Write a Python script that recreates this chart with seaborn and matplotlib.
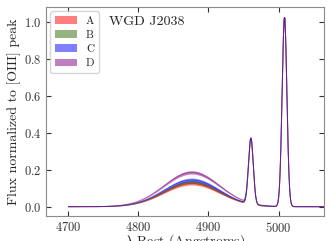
import numpy as np
import pandas as pd
import seaborn as sns
import matplotlib
matplotlib.use('Agg')
import matplotlib.pyplot as plt

# values
samples = ['A', 'B', 'C', 'D']
colors = ['red', '#2d6900', 'blue', 'purple']
# broad component of each sample: amplitude band (low, high)
broad_amp_lo = [0.118, 0.125, 0.135, 0.177]
broad_amp_hi = [0.135, 0.142, 0.155, 0.195]
broad_center = 4876.0
broad_sigma = 40.0
# narrow [OIII] doublet, common to all samples
narrow_centers = [4960.5, 5008.5]
narrow_amps = [0.355, 1.025]
narrow_sigma = 3.4
xticks = [4700, 4800, 4900, 5000]
yticks = [0.0, 0.2, 0.4, 0.6, 0.8, 1.0]
title = 'WGD J2038'


def gauss(x, a, c, s):
    return a * np.exp(-(x - c) ** 2 / (2 * s ** 2))


sns.set_style("ticks")
plt.rcParams['font.family'] = 'serif'
plt.rcParams['font.serif'] = ['cmr10', 'DejaVu Serif']
plt.rcParams['mathtext.fontset'] = 'cm'
plt.rcParams['axes.formatter.use_mathtext'] = True
plt.rcParams['axes.edgecolor'] = '0.55'
plt.rcParams['xtick.direction'] = 'in'
plt.rcParams['ytick.direction'] = 'in'
plt.rcParams['xtick.top'] = True
plt.rcParams['ytick.right'] = True
plt.rcParams['xtick.color'] = '0.2'
plt.rcParams['ytick.color'] = '0.2'

wl = np.linspace(4700, 5070, 2000)
narrow = sum(gauss(wl, a, c, narrow_sigma) for a, c in zip(narrow_amps, narrow_centers))

rows = []
fig = plt.figure(figsize=(3.31, 2.41), dpi=100)
ax = fig.add_axes([0.139, 0.104, 0.840, 0.867])
for name, col, lo, hi in zip(samples, colors, broad_amp_lo, broad_amp_hi):
    low = gauss(wl, lo, broad_center, broad_sigma) + narrow * 0.995
    high = gauss(wl, hi, broad_center, broad_sigma) + narrow * 1.005
    ax.fill_between(wl, low, high, color=col, alpha=0.5, lw=0, label=name)
    rows.append(pd.DataFrame({'wl': wl, 'flux': 0.5 * (low + high), 'sample': name}))
df = pd.concat(rows, ignore_index=True)
sns.lineplot(data=df, x='wl', y='flux', hue='sample', palette=dict(zip(samples, colors)),
             lw=0.7, alpha=0.5, legend=False, ax=ax)

ax.set_xlim(4668, 5065)
ax.set_ylim(-0.05, 1.083)
ax.set_xticks(xticks)
ax.set_yticks(yticks)
ax.tick_params(labelsize=9, length=3.5, width=0.8)
ax.set_xlabel(r'$\lambda$ Rest (Angstroms)', fontsize=10, labelpad=-2)
ax.set_ylabel('Flux normalized to [OIII] peak', fontsize=10, labelpad=2)
ax.text(0.227, 0.914, title, transform=ax.transAxes, fontsize=10, va='baseline')
ax.legend(loc='upper left', fontsize=8, frameon=True, borderaxespad=0.4,
          handlelength=2.0, labelspacing=0.4)
plt.savefig('out.png', dpi=100)
